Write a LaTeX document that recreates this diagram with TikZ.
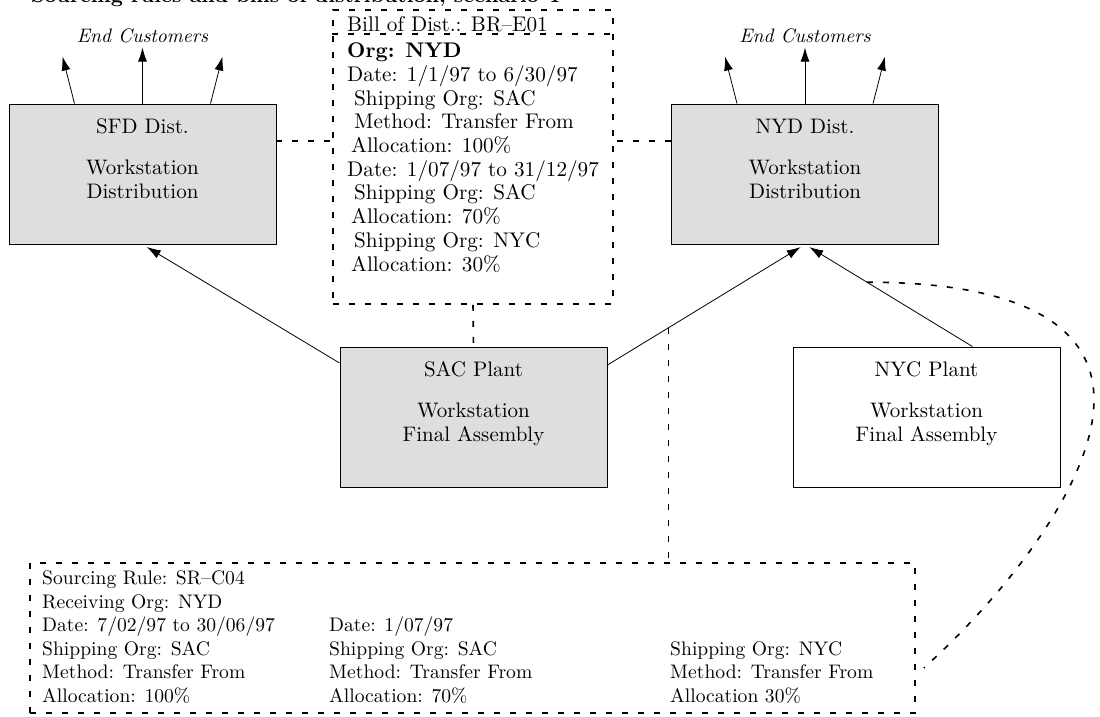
\documentclass[tikz,border=0pt]{standalone}
\usepackage{fontspec}
\setmainfont{lmroman10-regular.otf}[
  BoldFont=lmroman10-bold.otf,
  ItalicFont=lmroman10-italic.otf,
  BoldItalicFont=lmroman10-bolditalic.otf]
\usepackage{xcolor}
\usepackage{tikz}
\usetikzlibrary{arrows.meta,positioning,calc}

\definecolor{boxgray}{gray}{0.87}
\newcommand{\ind}{\hspace*{7pt}}

\begin{document}
\begin{tikzpicture}[
  x=1pt, y=-1pt,
  >={Latex[length=14pt,width=9pt]},
  box/.style={draw, line width=0.9pt, minimum width=267pt,
              minimum height=140pt, inner sep=0pt},
  boxtxt/.style={align=center, anchor=base, inner sep=0pt,
                 font=\fontsize{21}{24}\selectfont},
  infotxt/.style={align=left, anchor=base west, inner sep=0pt},
  custtxt/.style={anchor=base, inner sep=0pt,
                  font=\fontsize{19.5}{22}\selectfont\itshape},
  dline/.style={line width=1.6pt, dash pattern=on 6pt off 10pt},
  conn/.style={line width=0.8pt}
]
\useasboundingbox (0,0) rectangle (1100,716);

% title (cut off at the top)
\node[infotxt, font=\fontsize{21}{24}\selectfont\bfseries] (title)
  at (31,2.5) {Sourcing rules and bills of distribution, scenario 4};

%--- Distribution orgs ---------------------------------------------
\node[box, fill=boxgray] (sfd) at (142.5,174) {};
\node[boxtxt] (sfdtxt) at ([yshift=-95pt]sfd.north)
  {SFD Dist.\\[17pt]Workstation\\Distribution};
\node[box, fill=boxgray] (nyd) at (805,174) {};
\node[boxtxt] (nydtxt) at ([yshift=-95pt]nyd.north)
  {NYD Dist.\\[17pt]Workstation\\Distribution};

% end customers
\node[custtxt] (sfdcust) at (142.5,42) {End Customers};
\node[custtxt] (nydcust) at (805,42) {End Customers};
\foreach \org in {sfd,nyd} {
  \foreach \n/\dx/\tx/\ty in {l/-68/-12/47, m/0/0/56, r/68/12/47} {
    \coordinate (\org\n) at ([xshift=\dx pt]\org.north);
    \coordinate (\org\n t) at ([shift={(\tx,-\ty)}]\org\n);
    \draw[conn, ->] (\org\n) -- (\org\n t);
  }
}

%--- Plants ----------------------------------------------------------
\node[box, fill=boxgray] (sac) at (473.5,417) {};
\node[boxtxt] (sactxt) at ([yshift=-95pt]sac.north)
  {SAC Plant\\[17pt]Workstation\\Final Assembly};
\node[box, fill=white] (nyc) at (926.5,417) {};
\node[boxtxt] (nyctxt) at ([yshift=-95pt]nyc.north)
  {NYC Plant\\[17pt]Workstation\\Final Assembly};

% shipping arrows
\coordinate (sacl) at ([yshift=54pt]sac.west);
\coordinate (sacr) at ([yshift=52pt]sac.east);
\coordinate (nyct) at ([xshift=46pt]nyc.north);
\draw[conn, ->, shorten >=5pt] (sacl) -- (sfd.south);
\draw[conn, ->, shorten >=5pt] (sacr) -- (nyd.south);
\draw[conn, ->, shorten >=5pt] (nyct) -- (nyd.south);

%--- Bill of distribution ---------------------------------------------
\node[draw, dline, minimum width=280pt, minimum height=294pt,
      inner sep=0pt] (bill) at (473,157) {};
\draw[dline] ([yshift=-25pt]bill.north west) -- ([yshift=-25pt]bill.north east);
\node[infotxt, font=\fontsize{21.2}{23.7}\selectfont] (billhd)
  at (347,31) {Bill of Dist.: BR--E01};
\node[infotxt, font=\fontsize{21.2}{23.7}\selectfont] (billtxt)
  at (347,271) {\textbf{Org: NYD}\\
  Date: 1/1/97 to 6/30/97\\
  \ind Shipping Org: SAC\\
  \ind Method: Transfer From\\
  \hspace*{4pt}Allocation: 100\%\\
  Date: 1/07/97 to 31/12/97\\
  \ind Shipping Org: SAC\\
  \hspace*{4pt}Allocation: 70\%\\
  \ind Shipping Org: NYC\\
  \hspace*{4pt}Allocation: 30\%};

\coordinate (sfdr) at ([yshift=33pt]sfd.east);
\coordinate (nydl) at ([yshift=33pt]nyd.west);
\draw[dline] (sfdr) -- (sfdr -| bill.west);
\draw[dline] (nydl) -- (nydl -| bill.east);
\draw[dline] (bill.south) -- (sac.north);

%--- Sourcing rule --------------------------------------------------
\node[draw, dline, minimum width=885pt, minimum height=150pt,
      inner sep=0pt] (srule) at (472.5,638) {};
\node[infotxt, font=\fontsize{19.6}{23.5}\selectfont] (srtxt)
  at (42,702) {Sourcing Rule: SR--C04\\
  Receiving Org: NYD\\
  Date: 7/02/97 to 30/06/97\\
  Shipping Org: SAC\\
  Method: Transfer From\\
  Allocation: 100\%};
\node[infotxt, font=\fontsize{19.6}{23.5}\selectfont] (srmid)
  at (329,702) {Date: 1/07/97\\
  Shipping Org: SAC\\
  Method: Transfer From\\
  Allocation: 70\%};
\node[infotxt, font=\fontsize{19.6}{23.5}\selectfont] (srright)
  at (670,702) {Shipping Org: NYC\\
  Method: Transfer From\\
  Allocation 30\%};

% links to the sourcing rule
\coordinate (sacnyd) at ($(sacr)!0.31!(nyd.south)$);
\draw[dline] (sacnyd) -- (sacnyd |- srule.north);
\coordinate (nycnyd) at ($(nyct)!0.63!(nyd.south)$);
\coordinate (srend) at ([shift={(8,30)}]srule.east);
\draw[dline] (nycnyd) .. controls (1010,282) and (1094,320) .. (1094,400)
  .. controls (1094,480) and (1010,590) .. (srend);

\end{tikzpicture}
\end{document}
